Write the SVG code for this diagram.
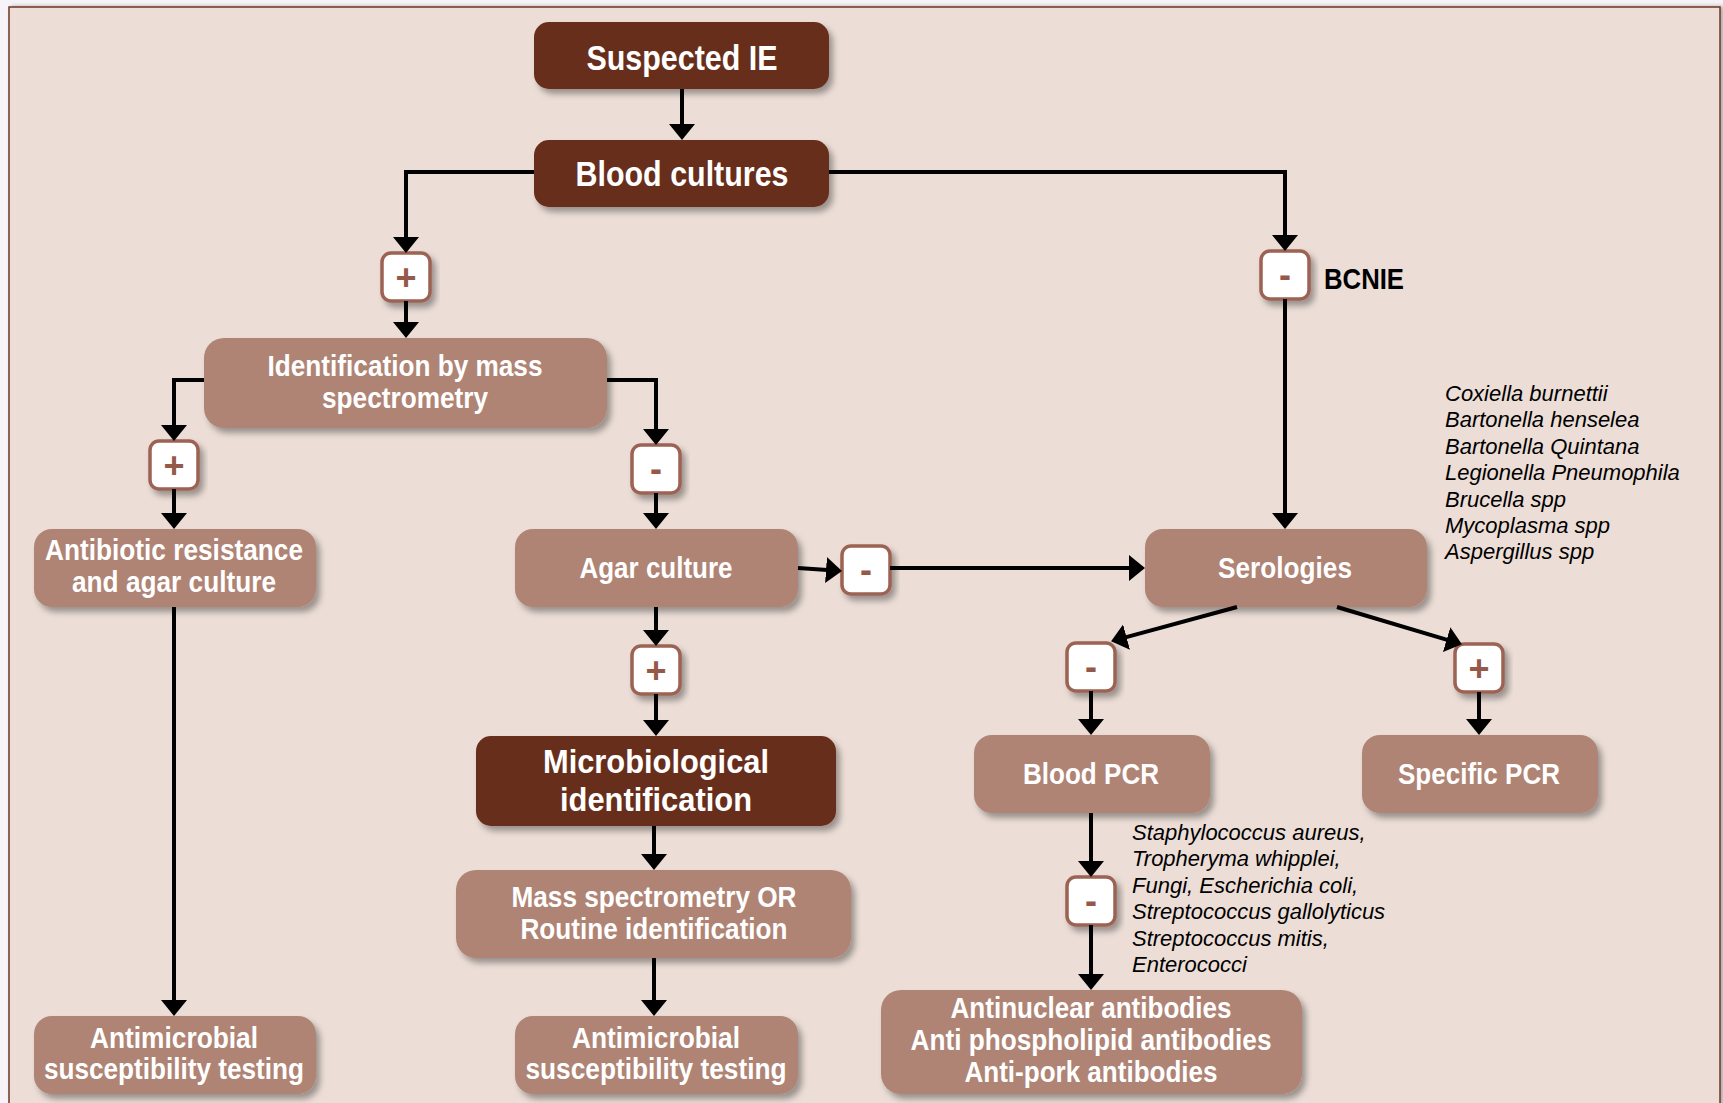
<svg xmlns="http://www.w3.org/2000/svg" width="1723" height="1103" viewBox="0 0 1723 1103">
<defs>
<filter id="sh" x="-10%" y="-10%" width="130%" height="140%">
<feDropShadow dx="4" dy="5" stdDeviation="3" flood-color="#000" flood-opacity="0.35"/>
</filter>
<filter id="psh" x="-2%" y="-2%" width="104%" height="104%">
<feDropShadow dx="3" dy="0" stdDeviation="2" flood-color="#000" flood-opacity="0.3"/>
</filter>
<marker id="ah" markerUnits="userSpaceOnUse" markerWidth="17" markerHeight="27" refX="5" refY="13" orient="auto">
<path d="M0,0 L16,13 L0,26 Z" fill="#000"/>
</marker>
</defs>
<style>
.dark{fill:#682D1C;filter:url(#sh)}
.light{fill:#AF8474;filter:url(#sh)}
.badge{fill:#fff;stroke:#9C6252;stroke-width:3.5;filter:url(#sh)}
.t{font-family:"Liberation Sans",Arial,sans-serif;font-weight:bold;fill:#fff;text-anchor:middle}
.b{font-family:"Liberation Sans",Arial,sans-serif;font-weight:bold;fill:#95594A;text-anchor:middle;font-size:36px}
.it{font-family:"Liberation Sans",Arial,sans-serif;font-style:italic;fill:#000;font-size:22px}
.c{fill:none;stroke:#000;stroke-width:4;marker-end:url(#ah)}
</style>
<rect x="0" y="0" width="1723" height="1103" fill="#F6F4F8"/>
<rect x="9" y="7" width="1711" height="1110" fill="#ECDED7" stroke="#6E3524" stroke-width="1.5" filter="url(#psh)"/>

<g id="n-suspected">
<rect class="dark" x="534" y="22" width="295" height="67" rx="15"/>
<text class="t" x="682" y="70" font-size="35" textLength="191" lengthAdjust="spacingAndGlyphs">Suspected IE</text>
</g>
<g id="n-blood">
<rect class="dark" x="534" y="140" width="295" height="67" rx="15"/>
<text class="t" x="682" y="186" font-size="35" textLength="213" lengthAdjust="spacingAndGlyphs">Blood cultures</text>
</g>
<g id="n-ident">
<rect class="light" x="204" y="338" width="403" height="90" rx="20"/>
<text class="t" x="405" y="376" font-size="29" textLength="275" lengthAdjust="spacingAndGlyphs">Identification by mass</text>
<text class="t" x="405" y="408" font-size="29" textLength="166" lengthAdjust="spacingAndGlyphs">spectrometry</text>
</g>
<g id="n-antibiotic">
<rect class="light" x="34" y="529" width="282" height="78" rx="18"/>
<text class="t" x="174" y="560" font-size="29" textLength="258" lengthAdjust="spacingAndGlyphs">Antibiotic resistance</text>
<text class="t" x="174" y="592" font-size="29" textLength="204" lengthAdjust="spacingAndGlyphs">and agar culture</text>
</g>
<g id="n-agar">
<rect class="light" x="515" y="529" width="283" height="78" rx="18"/>
<text class="t" x="656" y="578" font-size="29" textLength="153" lengthAdjust="spacingAndGlyphs">Agar culture</text>
</g>
<g id="n-serologies">
<rect class="light" x="1145" y="529" width="282" height="78" rx="18"/>
<text class="t" x="1285" y="578" font-size="29" textLength="134" lengthAdjust="spacingAndGlyphs">Serologies</text>
</g>
<g id="n-micro">
<rect class="dark" x="476" y="736" width="360" height="90" rx="15"/>
<text class="t" x="656" y="773" font-size="33" textLength="226" lengthAdjust="spacingAndGlyphs">Microbiological</text>
<text class="t" x="656" y="811" font-size="33" textLength="192" lengthAdjust="spacingAndGlyphs">identification</text>
</g>
<g id="n-massspec">
<rect class="light" x="456" y="870" width="395" height="88" rx="20"/>
<text class="t" x="654" y="907" font-size="29" textLength="285" lengthAdjust="spacingAndGlyphs">Mass spectrometry OR</text>
<text class="t" x="654" y="939" font-size="29" textLength="267" lengthAdjust="spacingAndGlyphs">Routine identification</text>
</g>
<g id="n-ast-left">
<rect class="light" x="34" y="1016" width="282" height="78" rx="18"/>
<text class="t" x="174" y="1048" font-size="29" textLength="168" lengthAdjust="spacingAndGlyphs">Antimicrobial</text>
<text class="t" x="174" y="1079" font-size="29" textLength="260" lengthAdjust="spacingAndGlyphs">susceptibility testing</text>
</g>
<g id="n-ast-mid">
<rect class="light" x="515" y="1016" width="283" height="78" rx="18"/>
<text class="t" x="656" y="1048" font-size="29" textLength="168" lengthAdjust="spacingAndGlyphs">Antimicrobial</text>
<text class="t" x="656" y="1079" font-size="29" textLength="261" lengthAdjust="spacingAndGlyphs">susceptibility testing</text>
</g>
<g id="n-bloodpcr">
<rect class="light" x="974" y="735" width="236" height="78" rx="18"/>
<text class="t" x="1091" y="784" font-size="29" textLength="136" lengthAdjust="spacingAndGlyphs">Blood PCR</text>
</g>
<g id="n-specificpcr">
<rect class="light" x="1362" y="735" width="236" height="78" rx="18"/>
<text class="t" x="1479" y="784" font-size="29" textLength="162" lengthAdjust="spacingAndGlyphs">Specific PCR</text>
</g>
<g id="n-antibodies">
<rect class="light" x="881" y="990" width="421" height="104" rx="20"/>
<text class="t" x="1091" y="1018" font-size="29" textLength="281" lengthAdjust="spacingAndGlyphs">Antinuclear antibodies</text>
<text class="t" x="1091" y="1050" font-size="29" textLength="361" lengthAdjust="spacingAndGlyphs">Anti phospholipid antibodies</text>
<text class="t" x="1091" y="1082" font-size="29" textLength="253" lengthAdjust="spacingAndGlyphs">Anti-pork antibodies</text>
</g>

<g id="badge-1"><rect class="badge" x="382" y="253" width="48" height="48" rx="9"/><text class="b" x="406" y="290">+</text></g>
<g id="badge-2"><rect class="badge" x="150" y="441" width="48" height="48" rx="9"/><text class="b" x="174" y="478">+</text></g>
<g id="badge-3"><rect class="badge" x="632" y="445" width="48" height="48" rx="9"/><text class="b" x="656" y="481">-</text></g>
<g id="badge-4"><rect class="badge" x="1261" y="251" width="48" height="48" rx="9"/><text class="b" x="1285" y="287">-</text></g>
<g id="badge-5"><rect class="badge" x="842" y="546" width="48" height="48" rx="9"/><text class="b" x="866" y="582">-</text></g>
<g id="badge-6"><rect class="badge" x="632" y="646" width="48" height="48" rx="9"/><text class="b" x="656" y="683">+</text></g>
<g id="badge-7"><rect class="badge" x="1067" y="643" width="48" height="48" rx="9"/><text class="b" x="1091" y="679">-</text></g>
<g id="badge-8"><rect class="badge" x="1455" y="644" width="48" height="48" rx="9"/><text class="b" x="1479" y="681">+</text></g>
<g id="badge-9"><rect class="badge" x="1067" y="877" width="48" height="48" rx="9"/><text class="b" x="1091" y="913">-</text></g>

<g id="labels">
<text x="1324" y="289" font-family="Liberation Sans, Arial, sans-serif" font-weight="bold" font-size="30" fill="#000" textLength="80" lengthAdjust="spacingAndGlyphs">BCNIE</text>
<text class="it" x="1445" y="401">Coxiella burnettii</text>
<text class="it" x="1445" y="427">Bartonella henselea</text>
<text class="it" x="1445" y="454">Bartonella Quintana</text>
<text class="it" x="1445" y="480">Legionella Pneumophila</text>
<text class="it" x="1445" y="507">Brucella spp</text>
<text class="it" x="1445" y="533">Mycoplasma spp</text>
<text class="it" x="1445" y="559">Aspergillus spp</text>
<text class="it" x="1132" y="840">Staphylococcus aureus,</text>
<text class="it" x="1132" y="866">Tropheryma whipplei,</text>
<text class="it" x="1132" y="893">Fungi, Escherichia coli,</text>
<text class="it" x="1132" y="919">Streptococcus gallolyticus</text>
<text class="it" x="1132" y="946">Streptococcus mitis,</text>
<text class="it" x="1132" y="972">Enterococci</text>
</g>

<g id="connectors">
<path class="c" d="M682,89 V129"/>
<path class="c" d="M534,172 H406 V242"/>
<path class="c" d="M406,301 V327"/>
<path class="c" d="M829,172 H1285 V240"/>
<path class="c" d="M1285,299 V518"/>
<path class="c" d="M204,380 H174 V430"/>
<path class="c" d="M174,489 V518"/>
<path class="c" d="M607,380 H656 V434"/>
<path class="c" d="M656,493 V518"/>
<path class="c" d="M798,568 L831,570.3"/>
<path class="c" d="M890,568 H1134"/>
<path class="c" d="M656,607 V635"/>
<path class="c" d="M656,694 V725"/>
<path class="c" d="M654,826 V859"/>
<path class="c" d="M654,958 V1005"/>
<path class="c" d="M174,607 V1005"/>
<path class="c" d="M1237,607 L1121.7,638.4"/>
<path class="c" d="M1337,607 L1451.4,641.1"/>
<path class="c" d="M1091,691 V724"/>
<path class="c" d="M1479,692 V724"/>
<path class="c" d="M1091,813 V866"/>
<path class="c" d="M1091,925 V979"/>
</g>
</svg>
